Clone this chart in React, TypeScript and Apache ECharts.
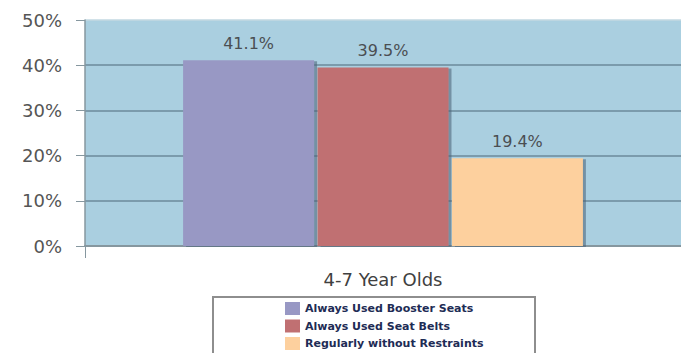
import React, { useEffect, useRef } from "react";
import * as echarts from "echarts";

const categories = ["4-7 Year Olds"];
const seriesNames = [
  "Always Used Booster Seats",
  "Always Used Seat Belts",
  "Regularly without Restraints",
];
const seriesValues = [[41.1], [39.5], [19.4]];
const seriesColors = ["#9898c4", "#c07072", "#fdd09e"];
const yMin = 0;
const yMax = 50;
const yInterval = 10;

export default function App() {
  const ref = useRef<HTMLDivElement>(null);
  useEffect(() => {
    if (!ref.current) return;
    const chart = echarts.init(ref.current, null, { renderer: "svg" });
    const series = seriesNames.map((name, i) => ({
      name,
      type: "bar",
      data: seriesValues[i],
      barWidth: 131,
      barGap: "2.6%",
      itemStyle: {
        color: seriesColors[i],
        shadowColor: "rgba(70,95,115,0.55)",
        shadowOffsetX: 3,
        shadowOffsetY: 1,
        shadowBlur: 1,
      },
      label: {
        show: true,
        position: "top",
        distance: 9,
        formatter: "{c}%",
        fontFamily: "DejaVu Sans",
        fontSize: 16,
        color: "#4a4e52",
      },
    }));
    chart.setOption({
      animation: false,
      backgroundColor: "#ffffff",
      grid: {
        left: 85,
        width: 604,
        top: 20,
        height: 226,
        show: true,
        backgroundColor: "#aacfe0",
        borderWidth: 0,
      },
      legend: {
        orient: "vertical",
        left: 285,
        top: 302,
        padding: 0,
        itemWidth: 15,
        itemHeight: 13,
        itemGap: 4.5,
        icon: "rect",
        textStyle: {
          fontFamily: "DejaVu Sans",
          fontWeight: "bold",
          fontSize: 11,
          color: "#1e2c55",
        },
        data: seriesNames,
      },
      graphic: [
        {
          type: "rect",
          z: 0,
          shape: { x: 213, y: 297, width: 322, height: 70 },
          style: { fill: "#ffffff", stroke: "#8e8e8e", lineWidth: 2 },
        },
      ],
      xAxis: {
        type: "category",
        data: categories,
        axisLine: { show: true, lineStyle: { color: "#86979f", width: 2 } },
        axisTick: { show: true, length: 12, lineStyle: { color: "#86979f" } },
        axisLabel: {
          margin: 24,
          fontFamily: "DejaVu Sans",
          fontSize: 18,
          color: "#404040",
        },
      },
      yAxis: {
        type: "value",
        min: yMin,
        max: yMax,
        interval: yInterval,
        axisLine: { show: true, lineStyle: { color: "#86979f", width: 1.5 } },
        axisTick: { show: true, length: 9, lineStyle: { color: "#86979f" } },
        axisLabel: {
          margin: 23,
          formatter: "{value}%",
          fontFamily: "DejaVu Sans",
          fontSize: 18,
          color: "#555555",
        },
        splitLine: {
          show: true,
          lineStyle: {
            color: ["#7a8f99", "#6b8a9b", "#6b8a9b", "#6b8a9b", "#6b8a9b", "#c3d8e2"],
            width: 1.5,
          },
        },
      },
      series,
    });
    return () => chart.dispose();
  }, []);
  return (
    <div
      ref={ref}
      style={{ position: "fixed", left: 0, top: 0, width: 681, height: 353 }}
    />
  );
}
